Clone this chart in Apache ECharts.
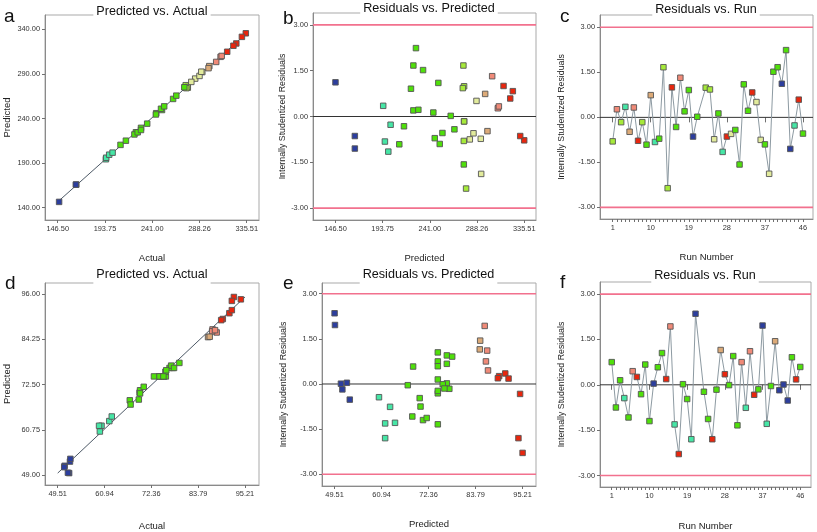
<!DOCTYPE html>
<html><head><meta charset="utf-8">
<script src="https://cdn.jsdelivr.net/npm/echarts@6/dist/echarts.min.js"></script>
<style>html,body{margin:0;padding:0;background:#fff}#chart{width:817px;height:532px}</style>
</head><body><div id="chart"></div>
<script>
// ---------------- DATA ----------------
const runs = [1,2,3,4,5,6,7,8,9,10,11,12,13,14,15,16,17,18,19,20,21,22,23,24,25,26,27,28,29,30,31,32,33,34,35,36,37,38,39,40,41,42,43,44,45,46];

// Top row (a, b, c)
const topPred = [275.0,309.1,275.3,194.3,298.7,310.1,335.5,275.3,210.4,296.4,196.0,245.9,274.6,277.3,314.8,215.1,303.4,224.5,222.1,165.9,261.9,null,275.3,274.0,292.0,244.5,199.4,331.5,284.7,265.6,275.0,249.5,229.5,324.1,287.7,281.0,250.9,292.4,234.2,224.5,146.5,227.1,165.9,201.7,321.5,253.6];
const topActual = [274.0,309.4,275.1,194.7,298.1,310.5,334.6,275.1,209.3,297.3,195.0,245.0,276.6,274.5,316.0,214.7,305.0,224.7,223.2,165.1,261.9,null,276.5,275.1,291.1,244.7,198.0,330.7,284.0,265.1,273.1,250.8,229.8,325.1,288.3,280.1,249.8,290.1,236.0,226.5,147.9,229.8,164.6,201.4,322.2,253.0];
const topResid = [-0.80,0.27,-0.16,0.35,-0.48,0.33,-0.78,-0.16,-0.91,0.74,-0.82,-0.71,1.67,-2.36,1.00,-0.32,1.32,0.20,0.91,-0.64,0.02,null,0.99,0.93,-0.73,0.13,-1.15,-0.64,-0.55,-0.42,-1.57,1.10,0.22,0.83,0.51,-0.75,-0.90,-1.88,1.52,1.67,1.12,2.24,-1.05,-0.27,0.59,-0.54];

// Bottom row (d, e, f)
const botPred = [74.6,70.4,74.6,60.3,68.4,86.8,89.5,74.6,76.8,71.0,52.5,68.6,74.6,89.2,86.0,61.8,95.21,76.8,70.2,61.8,49.51,null,74.6,71.9,94.2,77.4,84.8,91.0,75.8,76.8,74.6,86.3,63.0,86.6,94.6,76.2,49.6,64.2,67.3,84.9,51.4,51.05,53.2,78.1,91.8,74.6];
const botActual = [75.5,69.5,74.8,59.8,67.1,87.3,89.8,74.2,77.6,69.6,52.5,69.3,75.9,89.4,88.3,60.2,92.5,76.8,69.6,59.6,52.3,null,74.3,70.5,92.0,77.2,86.2,91.4,75.8,77.9,73.0,87.2,62.1,87.9,94.2,76.0,52.0,62.7,67.3,86.6,51.2,51.1,52.6,79.2,92.0,75.3];
const botResid = [0.75,-0.75,0.15,-0.44,-1.08,0.45,0.26,-0.31,0.67,-1.20,0.04,0.58,1.05,0.19,1.93,-1.31,-2.29,0.02,-0.47,-1.80,2.35,null,-0.23,-1.13,-1.80,-0.16,1.15,0.35,-0.01,0.95,-1.34,0.75,-0.76,1.11,-0.33,-0.15,1.96,-1.29,-0.04,1.44,-0.18,0.01,-0.52,0.91,0.18,0.59];

// Tick labels
const topXTicks = [146.50,193.75,241.00,288.26,335.51];
const topYTicks = [140.00,190.00,240.00,290.00,340.00];
const botXTicks = [49.51,60.94,72.36,83.79,95.21];
const botYTicks = [49.00,60.75,72.50,84.25,96.00];
const residTicks = [-3.00,-1.50,0.00,1.50,3.00];
const runTicks = [1,10,19,28,37,46];
const residLimits = [3, -3];

// ---------------- BUILD ----------------
const FONT = '"Liberation Sans", Arial, sans-serif';
const C = {blue:'#2c3e9e', cyan:'#46e6a6', green:'#4fe00a', yg:'#a6ea3a', pale:'#e2eb9c', tan:'#dcaa78', salmon:'#f08a78', red:'#e8260e'};

function rows(pred, actual, resid){
  return runs.map((r,i)=>({run:r, pred:pred[i], actual:actual[i], resid:resid[i]})).filter(d=>d.pred!==null);
}
const topRows = rows(topPred, topActual, topResid);
const botRows = rows(botPred, botActual, botResid);

const panels = [
  {type:'pva', rows:topRows, grid:{left:45,top:15,width:214,height:205},
   x:{min:133.8,max:347.8,ticks:topXTicks,dec:2,name:'Actual',gap:33},
   y:{min:126.2,max:356.0,ticks:topYTicks,dec:2,name:'Predicted',gap:33},
   diag:topXTicks, row:0, title:'Predicted vs. Actual', tpos:[152,5], letter:'a', lpos:[4,7]},
  {type:'rvp', rows:topRows, grid:{left:313,top:13,width:223,height:207},
   x:{min:124.0,max:347.3,ticks:topXTicks,dec:2,name:'Predicted',gap:33},
   y:{min:-3.39,max:3.39,ticks:residTicks,dec:2,name:'Internally Studentized Residuals',gap:24},
   row:0, title:'Residuals vs. Predicted', tpos:[429,2], letter:'b', lpos:[283,9]},
  {type:'rvr', rows:topRows, grid:{left:600,top:15,width:213,height:204},
   x:{min:-2.0,max:48.37,ticks:runTicks,dec:0,name:'Run Number',gap:33,all:runs},
   y:{min:-3.386,max:3.41,ticks:residTicks,dec:2,name:'Internally Studentized Residuals',gap:34},
   row:0, title:'Residuals vs. Run', tpos:[706,3], letter:'c', lpos:[560,7]},
  {type:'pva', rows:botRows, grid:{left:45,top:283,width:214,height:203},
   x:{min:46.41,max:98.63,ticks:botXTicks,dec:2,name:'Actual',gap:36},
   y:{min:46.42,max:98.84,ticks:botYTicks,dec:2,name:'Predicted',gap:33},
   diag:botXTicks, row:1, title:'Predicted vs. Actual', tpos:[152,268.5], letter:'d', lpos:[5,274]},
  {type:'rvp', rows:botRows, grid:{left:322,top:283,width:214,height:203},
   x:{min:46.45,max:98.47,ticks:botXTicks,dec:2,name:'Predicted',gap:33},
   y:{min:-3.39,max:3.356,ticks:residTicks,dec:2,name:'Internally Studentized Residuals',gap:34},
   row:1, title:'Residuals vs. Predicted', tpos:[428.5,268.5], letter:'e', lpos:[283,274]},
  {type:'rvr', rows:botRows, grid:{left:600,top:282,width:211,height:205},
   x:{min:-1.8,max:48.56,ticks:runTicks,dec:0,name:'Run Number',gap:34,all:runs},
   y:{min:-3.38,max:3.40,ticks:residTicks,dec:2,name:'Internally Studentized Residuals',gap:34},
   row:1, title:'Residuals vs. Run', tpos:[705,269], letter:'f', lpos:[560,273]}
];

const grids=[], xAxes=[], yAxes=[], series=[], graphics=[];
const scatterIdx=[[],[]];

function fmt(dec){ return v => dec ? Number(v).toFixed(dec) : String(Math.round(v)); }

panels.forEach((p,gi)=>{
  grids.push(Object.assign({show:true, borderColor:'#a9a9a9', borderWidth:1, containLabel:false}, p.grid));
  const xi = xAxes.length;
  xAxes.push({type:'value', gridIndex:gi, min:p.x.min, max:p.x.max, position:'bottom',
    axisLine:{show:true,onZero:false,lineStyle:{color:'#8a8a8a',width:1}},
    axisTick:{show:true,length:3,customValues:p.x.all||p.x.ticks,lineStyle:{color:'#707070'}},
    axisLabel:{show:true,customValues:p.x.ticks,formatter:fmt(p.x.dec),fontSize:7.4,color:'#333',margin:5,fontFamily:FONT},
    splitLine:{show:false},
    name:p.x.name, nameLocation:'middle', nameGap:p.x.gap, nameTextStyle:{fontSize:9.5,color:'#222',fontFamily:FONT}});
  if(p.x.all){
    xAxes.push({type:'value', gridIndex:gi, min:p.x.min, max:p.x.max, position:'bottom', offset:0,
      axisLine:{show:false}, axisLabel:{show:false}, splitLine:{show:false},
      axisTick:{show:true,length:5,customValues:p.x.ticks,lineStyle:{color:'#707070'}}});
  }
  yAxes.push({type:'value', gridIndex:gi, min:p.y.min, max:p.y.max, position:'left',
    axisLine:{show:true,onZero:false,lineStyle:{color:'#8a8a8a',width:1}},
    axisTick:{show:true,length:3,customValues:p.y.ticks,lineStyle:{color:'#707070'}},
    axisLabel:{show:true,customValues:p.y.ticks,formatter:fmt(p.y.dec),fontSize:7.4,color:'#333',margin:5,fontFamily:FONT},
    splitLine:{show:false},
    name:p.y.name, nameLocation:'middle', nameGap:p.y.gap, nameRotate:90,
    nameTextStyle:{fontSize:p.y.name.length>12?8.8:9.5,color:'#222',fontFamily:FONT}});
  const yi = gi;
  const base = {xAxisIndex:xi, yAxisIndex:yi, silent:true, animation:false};

  if(p.type==='pva'){
    const d0=p.diag[0], d1=p.diag[p.diag.length-1];
    series.push(Object.assign({type:'line', data:[[d0,d0],[d1,d1]], symbol:'none', z:3,
      lineStyle:{color:'#4d5966',width:1}}, base));
    scatterIdx[p.row].push(series.length);
    series.push(Object.assign({type:'scatter', symbol:'rect', symbolSize:5.5, z:5,
      itemStyle:{borderColor:'#555',borderWidth:0.9,opacity:1},
      data:p.rows.map(d=>[d.actual,d.pred,d.actual])}, base));
  } else {
    residLimits.forEach(v=>{
      series.push(Object.assign({type:'line', data:[[p.x.min,v],[p.x.max,v]], symbol:'none', z:2,
        lineStyle:{color:'#f2718e',width:1.6}}, base));
    });
    series.push(Object.assign({type:'line', data:[[p.x.min,0],[p.x.max,0]], symbol:'none', z:2,
      lineStyle:{color:'#333',width:1}}, base));
    if(p.type==='rvr'){
      series.push(Object.assign({type:'line', data:p.rows.map(d=>[d.run,d.resid]), symbol:'none', z:3,
        lineStyle:{color:'#8d9aa2',width:1}}, base));
      scatterIdx[p.row].push(series.length);
      series.push(Object.assign({type:'scatter', symbol:'rect', symbolSize:5.5, z:5,
        itemStyle:{borderColor:'#555',borderWidth:0.9,opacity:1},
        data:p.rows.map(d=>[d.run,d.resid,d.actual])}, base));
    } else {
      scatterIdx[p.row].push(series.length);
      series.push(Object.assign({type:'scatter', symbol:'rect', symbolSize:5.5, z:5,
        itemStyle:{borderColor:'#555',borderWidth:0.9,opacity:1},
        data:p.rows.map(d=>[d.pred,d.resid,d.actual])}, base));
    }
  }
  graphics.push({type:'text', x:p.tpos[0], y:p.tpos[1], z:100,
    style:{text:p.title, font:'12.6px "Liberation Sans", Arial, sans-serif', fill:'#111',
      align:'center', verticalAlign:'top', backgroundColor:'#fff', padding:[0,3,3,3]}});
  graphics.push({type:'text', x:p.lpos[0], y:p.lpos[1], z:100,
    style:{text:p.letter, font:'19px "Liberation Sans", Arial, sans-serif', fill:'#111',
      align:'left', verticalAlign:'top'}});
});

const visualMap = [
  {type:'piecewise', show:false, dimension:2, seriesIndex:scatterIdx[0],
   pieces:[{lt:180,color:C.blue},{gte:180,lt:205,color:C.cyan},{gte:205,lt:273.5,color:C.green},
     {gte:273.5,lt:279,color:C.yg},{gte:279,lt:294,color:C.pale},{gte:294,lt:300.5,color:C.tan},
     {gte:300.5,lt:312,color:C.salmon},{gte:312,color:C.red}]},
  {type:'piecewise', show:false, dimension:2, seriesIndex:scatterIdx[1],
   pieces:[{lt:56,color:C.blue},{gte:56,lt:65,color:C.cyan},{gte:65,lt:83,color:C.green},
     {gte:83,lt:86.9,color:C.tan},{gte:86.9,lt:89,color:C.salmon},{gte:89,color:C.red}]}
];

const chart = echarts.init(document.getElementById('chart'), null, {renderer:'canvas'});
chart.setOption({animation:false, backgroundColor:'#fff', textStyle:{fontFamily:FONT},
  grid:grids, xAxis:xAxes, yAxis:yAxes, series:series, visualMap:visualMap, graphic:graphics});
</script></body></html>
